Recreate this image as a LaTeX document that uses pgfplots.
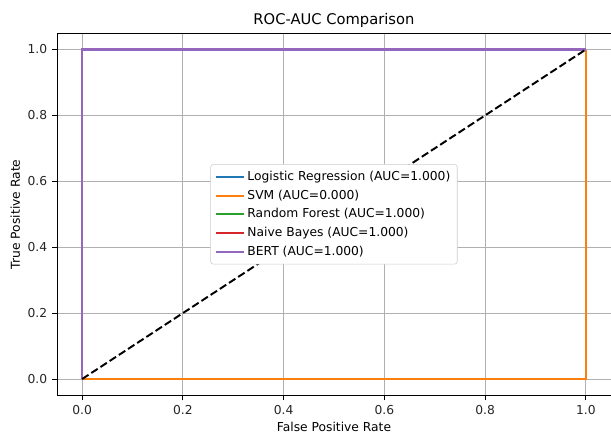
\documentclass[border=0pt]{standalone}
\usepackage{fontspec}
\setmainfont{DejaVu Sans}
\usepackage{pgfplots}
\pgfplotsset{compat=1.18}

\definecolor{tabblue}{HTML}{1F77B4}
\definecolor{taborange}{HTML}{FF7F0E}
\definecolor{tabgreen}{HTML}{2CA02C}
\definecolor{tabred}{HTML}{D62728}
\definecolor{tabpurple}{HTML}{9467BD}
\definecolor{gridc}{HTML}{B0B0B0}

\begin{document}
\begin{tikzpicture}
\begin{axis}[
    scale only axis,
    width=399pt,
    height=261pt,
    xmin=-0.05, xmax=1.05,
    ymin=-0.05, ymax=1.05,
    xtick={0,0.2,...,1.0},
    ytick={0,0.2,...,1.0},
    /pgf/number format/assume math mode=true,
    xticklabel style={/pgf/number format/.cd, fixed, fixed zerofill, precision=1},
    yticklabel style={/pgf/number format/.cd, fixed, fixed zerofill, precision=1},
    tick label style={font=\fontsize{8.85}{10}\selectfont, color=black!85},
    tick align=outside,
    major tick length=3.5pt,
    tick style={black, line width=0.6pt},
    xtick pos=bottom, ytick pos=left,
    grid=major,
    major grid style={gridc, line width=0.6pt},
    axis line style={black, line width=0.6pt},
    title={ROC-AUC Comparison},
    title style={font=\fontsize{10.6}{12}\selectfont, at={(axis description cs:0.5,1)}, anchor=center, yshift=3.4pt},
    xlabel={False Positive Rate},
    ylabel={True Positive Rate},
    label style={font=\fontsize{8.85}{10}\selectfont},
    xlabel style={at={(axis description cs:0.5,0)}, anchor=center, yshift=-22.3pt},
    ylabel style={at={(axis description cs:0,0.5)}, anchor=center, yshift=30pt},
    legend style={at={(0.5,0.5)}, anchor=center, draw=black!20, rounded corners=2pt,
        fill=white, font=\fontsize{8.85}{10}\selectfont, row sep=1.2pt, inner sep=3pt},
    legend cell align=left,
    legend image code/.code={\draw[#1, line width=1.5pt] (0pt,0pt) -- (20pt,0pt);},
]
\addplot[color=tabblue, line width=1.5pt] coordinates {(0,0) (0,1) (1,1)};
\addlegendentry{Logistic Regression (AUC=1.000)}
\addplot[color=taborange, line width=1.5pt] coordinates {(0,0) (1,0) (1,1)};
\addlegendentry{SVM (AUC=0.000)}
\addplot[color=tabgreen, line width=1.5pt] coordinates {(0,0) (0,1) (1,1)};
\addlegendentry{Random Forest (AUC=1.000)}
\addplot[color=tabred, line width=1.5pt] coordinates {(0,0) (0,1) (1,1)};
\addlegendentry{Naive Bayes (AUC=1.000)}
\addplot[color=tabpurple, line width=1.5pt] coordinates {(0,0) (0,1) (1,1)};
\addlegendentry{BERT (AUC=1.000)}
\addplot[black, line width=1.4pt, dash pattern=on 5.5pt off 2.4pt, forget plot] coordinates {(0,0) (1,1)};
\end{axis}
\pgfresetboundingbox
\path ([shift={(-41pt,-26.6pt)}]current axis.south west) rectangle ([shift={(0pt,23.8pt)}]current axis.north east);
\end{tikzpicture}
\end{document}
